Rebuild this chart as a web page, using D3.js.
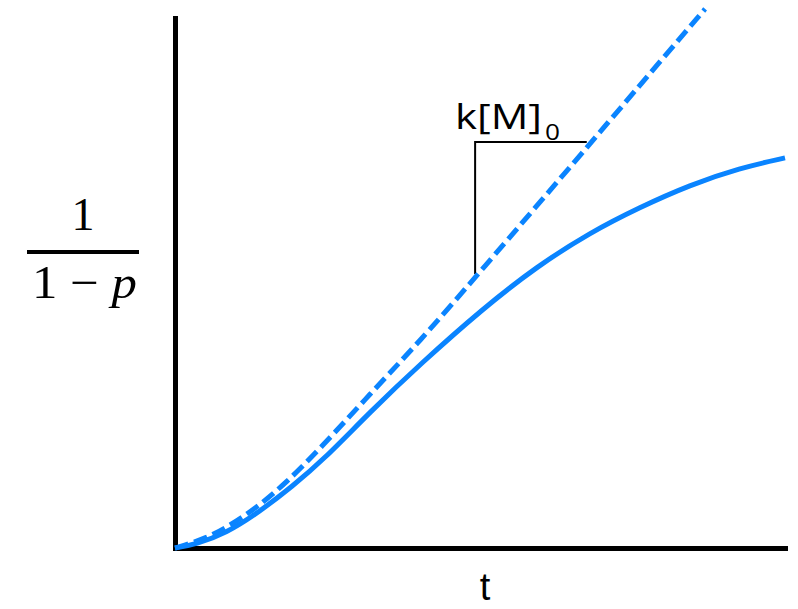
<!DOCTYPE html>
<html>
<head>
<meta charset="utf-8">
<script src="https://cdn.jsdelivr.net/npm/d3@7"></script>
<style>
  html, body { margin: 0; padding: 0; background: #fff; }
  svg { display: block; }
</style>
</head>
<body>
<svg id="chart" width="798" height="609"></svg>
<script>
// Conversion curve 1/(1-p) against time, with its initial-slope tangent
const solidT = [0, 0.34, 0.84, 1.38, 1.93, 2.43, 3.20, 4.02, 5.05, 5.93, 6.80, 7.62, 8.44, 9.26, 10.0];
const solidY = [0, 0.07, 0.28, 0.68, 1.17, 1.66, 2.57, 3.47, 4.52, 5.31, 5.95, 6.43, 6.85, 7.17, 7.36];

const dashT = [0, 0.13, 0.51, 0.84, 1.33, 1.82, 2.36, 3.20, 4.02, 4.89, 6.97, 7.79, 8.69];
const dashY = [0, 0.04, 0.19, 0.38, 0.75, 1.23, 1.85, 2.91, 3.91, 5.06, 7.85, 8.96, 10.17];

// slope triangle (t, y) vertices: bottom, corner, right
const slopeT = [4.92, 4.92, 6.75];
const slopeY = [5.17, 7.66, 7.66];

const slopeLabel = "k[M]";
const slopeSub = "0";
const xLabel = "t";
const yNum = "1";
const yDen = ["1 \u2212 ", "p"];

const blue = "#0a84ff";

const svg = d3.select("#chart");

const x = d3.scaleLinear().domain([0, 10]).range([175, 785]);
const y = d3.scaleLinear().domain([0, 10]).range([548, 18]);

// axes: plain thick lines, no ticks
const xAxis = svg.append("g")
  .attr("transform", `translate(0,${y(0)})`)
  .call(d3.axisBottom(x).ticks(0).tickSizeOuter(0));
const yAxis = svg.append("g")
  .attr("transform", `translate(${x(0)},0)`)
  .call(d3.axisLeft(y).ticks(0).tickSizeOuter(0));
[xAxis, yAxis].forEach(g => g.select(".domain")
  .attr("stroke", "#000")
  .attr("stroke-width", 5)
  .attr("stroke-linecap", "square"));

const line = d3.line()
  .x(d => x(d[0]))
  .y(d => y(d[1]))
  .curve(d3.curveBasis);

// slope triangle
svg.append("path")
  .attr("d", d3.line().x(d => x(d[0])).y(d => y(d[1]))(slopeT.map((t, i) => [t, slopeY[i]])))
  .attr("fill", "none")
  .attr("stroke", "#000")
  .attr("stroke-width", 2);

// solid curve
svg.append("path")
  .attr("d", line(solidT.map((t, i) => [t, solidY[i]])))
  .attr("fill", "none")
  .attr("stroke", blue)
  .attr("stroke-width", 5);

// dashed tangent
svg.append("path")
  .attr("d", line(dashT.map((t, i) => [t, dashY[i]])))
  .attr("fill", "none")
  .attr("stroke", blue)
  .attr("stroke-width", 5)
  .attr("stroke-dasharray", "14,6");

// slope label
svg.append("text")
  .attr("x", 455).attr("y", 129)
  .attr("font-family", "'Open Sans', sans-serif")
  .attr("font-size", 35)
  .attr("textLength", 87)
  .attr("lengthAdjust", "spacingAndGlyphs")
  .attr("fill", "#000")
  .text(slopeLabel);
svg.append("text")
  .attr("x", 545).attr("y", 140)
  .attr("font-family", "'Open Sans', sans-serif")
  .attr("font-size", 22)
  .attr("textLength", 15)
  .attr("lengthAdjust", "spacingAndGlyphs")
  .attr("fill", "#000")
  .text(slopeSub);

// x label
svg.append("text")
  .attr("x", 485).attr("y", 600)
  .attr("text-anchor", "middle")
  .attr("font-family", "'Liberation Sans', Arial, sans-serif")
  .attr("font-size", 38)
  .attr("fill", "#000")
  .text(xLabel);

// y label as a fraction
const frac = svg.append("g")
  .attr("font-family", "'Liberation Serif', 'DejaVu Serif', serif")
  .attr("font-size", 46)
  .attr("fill", "#000");
frac.append("text")
  .attr("x", 83).attr("y", 230)
  .attr("text-anchor", "middle")
  .text(yNum);
frac.append("line")
  .attr("x1", 27).attr("x2", 139)
  .attr("y1", 252).attr("y2", 252)
  .attr("stroke", "#000")
  .attr("stroke-width", 4);
const den = frac.append("text")
  .attr("x", 32).attr("y", 298)
  .attr("textLength", 105)
  .attr("lengthAdjust", "spacingAndGlyphs");
den.append("tspan").text(yDen[0]);
den.append("tspan").attr("font-style", "italic").text(yDen[1]);
</script>
</body>
</html>
